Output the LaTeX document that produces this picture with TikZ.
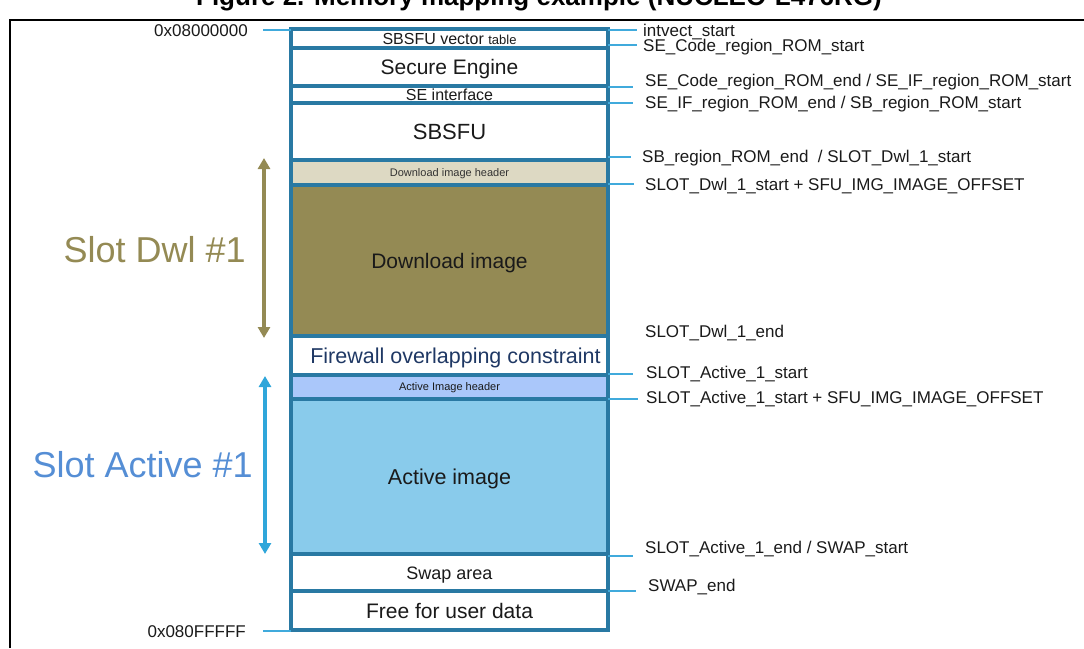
\documentclass[tikz,border=0pt]{standalone}
\usepackage{fontspec}
\setmainfont{Liberation Sans}
\usetikzlibrary{arrows.meta}
\definecolor{memedge}{RGB}{41,121,163}
\definecolor{tickblue}{RGB}{64,170,220}
\definecolor{olivefill}{RGB}{148,138,84}
\definecolor{dwlhead}{RGB}{221,217,195}
\definecolor{acthead}{RGB}{170,199,250}
\definecolor{actimg}{RGB}{137,203,235}
\definecolor{slotblue}{RGB}{85,142,213}
\definecolor{arrowblue}{RGB}{47,166,218}
\definecolor{navytext}{RGB}{31,56,100}
\definecolor{labeltext}{RGB}{26,26,26}
\newcommand\fsz[1]{\fontsize{#1}{#1}\selectfont}
\begin{document}
\begin{tikzpicture}[x=1pt,y=-1pt,
  region/.style={draw=memedge, line width=3.2pt, minimum width=317pt,
    inner sep=0pt, outer sep=0pt, anchor=north, text=labeltext, text depth=0pt},
  addr/.style={inner sep=0pt, text=labeltext, font=\fsz{17},
    text height=12.2pt, text depth=0pt},
  tick/.style={draw=tickblue, line width=1.3pt},
  slotarrow/.style={line width=3.6pt, {Triangle[width=12pt,length=11pt]}-{Triangle[width=12pt,length=11pt]}}
]
\useasboundingbox (0,0) rectangle (1084,648);

% frame and caption
\node[font=\bfseries\fsz{26}, anchor=base, inner sep=0pt] (title) at (539,5)
  {Figure 2. Memory mapping example (NUCLEO-L476RG)};
\coordinate (fbl) at (10,648);
\coordinate (ftl) at (10,20);
\coordinate (ftr) at (1084,20);
\draw[black, line width=2pt] (fbl) -- (ftl) -- (ftr);

% memory regions, top to bottom (text height = cap height of each font)
\node[region, minimum height=19pt, text height=11.5pt] (vt) at (449.5,29)
  {{\fsz{16}SBSFU vector }{\fsz{13}table}};
\node[region, minimum height=38pt, font=\fsz{21}, text height=15.1pt] (se) at (449.5,48) {Secure Engine};
\node[region, minimum height=17pt, font=\fsz{16}, text height=11.5pt] (sei) at (449.5,86) {SE interface};
\node[region, minimum height=57pt, font=\fsz{22}, text height=15.8pt] (sb) at (449.5,103) {SBSFU};
\node[region, minimum height=25pt, fill=dwlhead, font=\fsz{11}, text height=7.9pt, text=black!80] (dh) at (449.5,160) {Download image header};
\node[region, minimum height=151pt, fill=olivefill, font=\fsz{21}, text height=15.1pt] (di) at (449.5,185) {Download image};
\node[region, minimum height=39pt, font=\fsz{21.5}, text height=15.5pt, text=navytext] (fw) at (449.5,336) {\hspace{12pt}Firewall overlapping constraint};
\node[region, minimum height=24pt, fill=acthead, font=\fsz{11}, text height=7.9pt] (ah) at (449.5,375) {Active Image header};
\node[region, minimum height=155pt, fill=actimg, font=\fsz{21.5}, text height=15.5pt] (ai) at (449.5,399) {Active image};
\node[region, minimum height=37pt, font=\fsz{18}, text height=13pt] (sw) at (449.5,554) {Swap area};
\node[region, minimum height=39pt, font=\fsz{21}, text height=15.1pt] (fr) at (449.5,591) {Free for user data};

% start and end addresses
\node[addr, anchor=east] (a0) at (248,30) {0x08000000};
\node[addr, anchor=east] (a1) at (246,631) {0x080FFFFF};
\coordinate (a0l) at (263,30);
\coordinate (a1l) at (263,631);
\draw[tick] (a0l) -- (a0l -| vt.west);
\draw[tick] (a1l) -- (a1l -| fr.west);

% symbol names on the right
\node[addr, anchor=west] (l1) at (643,30) {intvect\_start};
\node[addr, anchor=west] (l2) at (643,45) {SE\_Code\_region\_ROM\_start};
\node[addr, anchor=west] (l3) at (645,80) {SE\_Code\_region\_ROM\_end / SE\_IF\_region\_ROM\_start};
\node[addr, anchor=west] (l4) at (645,102) {SE\_IF\_region\_ROM\_end / SB\_region\_ROM\_start};
\node[addr, anchor=west] (l5) at (642,156) {SB\_region\_ROM\_end \ / SLOT\_Dwl\_1\_start};
\node[addr, anchor=west] (l6) at (645,184) {SLOT\_Dwl\_1\_start + SFU\_IMG\_IMAGE\_OFFSET};
\node[addr, anchor=west] (l7) at (645,331) {SLOT\_Dwl\_1\_end};
\node[addr, anchor=west] (l8) at (646,372) {SLOT\_Active\_1\_start};
\node[addr, anchor=west] (l9) at (646,397) {SLOT\_Active\_1\_start + SFU\_IMG\_IMAGE\_OFFSET};
\node[addr, anchor=west] (l10) at (645,547) {SLOT\_Active\_1\_end / SWAP\_start};
\node[addr, anchor=west] (l11) at (648,585) {SWAP\_end};

% tick marks from the column edge
\foreach \y/\e in {30/637, 45/637, 87/633, 103/633, 157/631, 184/634, 374/633, 399/638, 556/633, 591/636} {
  \coordinate (tk) at (\e,\y);
  \draw[tick] (tk -| vt.east) -- (tk);
}

% slot extents
\coordinate (dwltop) at (264,158);
\coordinate (dwlbot) at (264,338);
\coordinate (acttop) at (265,376);
\coordinate (actbot) at (265,554);
\draw[slotarrow, draw=olivefill, fill=olivefill] (dwltop) -- (dwlbot);
\draw[slotarrow, draw=arrowblue, fill=arrowblue] (acttop) -- (actbot);
\node[anchor=east, inner sep=0pt, font=\fsz{36}, text=olivefill] (sdwl) at (246,250) {Slot Dwl \#1};
\node[anchor=east, inner sep=0pt, font=\fsz{36}, text=slotblue] (sact) at (253,465) {Slot Active \#1};
\end{tikzpicture}
\end{document}
